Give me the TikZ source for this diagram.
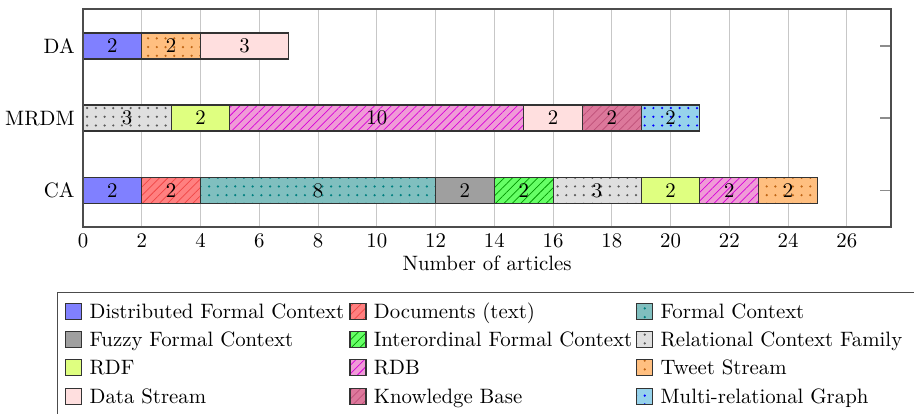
\documentclass[tikz,border=0pt]{standalone}
\usetikzlibrary{patterns.meta}
\definecolor{docline}{RGB}{240,70,70}
\definecolor{fcdot}{RGB}{0,128,128}
\definecolor{ioline}{RGB}{0,150,0}
\definecolor{rcfdot}{RGB}{90,90,90}
\definecolor{rdbfill}{RGB}{240,155,215}
\definecolor{rdbline}{RGB}{215,0,215}
\definecolor{tweetdot}{RGB}{190,100,20}
\definecolor{kbfill}{RGB}{220,120,155}
\definecolor{kbline}{RGB}{190,80,120}
\definecolor{mrgfill}{RGB}{150,210,235}
\tikzset{
  every node/.style={font=\fontsize{10.15}{12}\selectfont},
  barbox/.style={draw=black!80, line width=0.5pt},
  gridline/.style={draw=black!22, line width=0.5pt},
  axisframe/.style={draw=black!70, line width=0.7pt},
  ticklabel/.style={anchor=base, inner sep=0pt},
  barlabel/.style={anchor=base, inner sep=0pt},
  catlabel/.style={anchor=base east, inner sep=0pt},
  legtext/.style={anchor=base west, inner sep=0pt},
  lines/.style={pattern={Lines[angle=45,distance=2.9pt,line width=0.35pt]}},
  dotted pat/.style={pattern={Dots[distance=4.25pt,radius=0.6pt]}},
  sDist/.style={fill=blue!50},
  sDoc/.style={preaction={fill=red!50}, lines, pattern color=docline},
  sFC/.style={preaction={fill=teal!50}, dotted pat, pattern color=fcdot},
  sFuzzy/.style={fill=gray!75},
  sIO/.style={preaction={fill=green!60}, lines, pattern color=ioline},
  sRCF/.style={preaction={fill=gray!25}, dotted pat, pattern color=rcfdot},
  sRDF/.style={fill=lime!50},
  sRDB/.style={preaction={fill=rdbfill}, lines, pattern color=rdbline},
  sTweet/.style={preaction={fill=orange!50}, dotted pat, pattern color=tweetdot},
  sDS/.style={fill=pink!50},
  sKB/.style={preaction={fill=kbfill}, lines, pattern color=kbline},
  sMRG/.style={preaction={fill=mrgfill}, dotted pat, pattern color=blue},
}
% #1 name, #2 bar centre y (px), #3 from, #4 to, #5 style, #6 label
\newcommand\barseg[6]{%
  \path[barbox,#5] ({83+#3*29.38},{#2-13}) rectangle ({83+#4*29.38},{#2+13});
  \node[barlabel] (#1) at ({83+(#3+#4)*14.69},{#2+6.8}) {#6};
}
% #1 name, #2 square x, #3 row y, #4 style, #5 text
\newcommand\legitem[5]{%
  \path[barbox,#4] (#2,{#3-8}) rectangle ({#2+16},{#3+8});
  \node[legtext] (#1) at ({#2+23.5},{#3+7}) {#5};
}
\begin{document}
\begin{tikzpicture}[x=0.4878pt,y=-0.4878pt]
\useasboundingbox (0,0) rectangle (914,413);
\clip (0,0) rectangle (914,413);
% grid
\foreach \v in {2,4,...,26}
  \draw[gridline] ({83+\v*29.38},9) -- ({83+\v*29.38},227);
% right-side y ticks
\foreach \yy in {46,118,190.5}
  \draw[draw=black!45, line width=0.5pt] (880,\yy) -- (891,\yy);
% DA
\barseg{da1}{46}{0}{2}{sDist}{2}
\barseg{da2}{46}{2}{4}{sTweet}{2}
\barseg{da3}{46}{4}{7}{sDS}{3}
% MRDM
\barseg{mr1}{118}{0}{3}{sRCF}{3}
\barseg{mr2}{118}{3}{5}{sRDF}{2}
\barseg{mr3}{118}{5}{15}{sRDB}{10}
\barseg{mr4}{118}{15}{17}{sDS}{2}
\barseg{mr5}{118}{17}{19}{sKB}{2}
\barseg{mr6}{118}{19}{21}{sMRG}{2}
% CA
\barseg{ca1}{190.5}{0}{2}{sDist}{2}
\barseg{ca2}{190.5}{2}{4}{sDoc}{2}
\barseg{ca3}{190.5}{4}{12}{sFC}{8}
\barseg{ca4}{190.5}{12}{14}{sFuzzy}{2}
\barseg{ca5}{190.5}{14}{16}{sIO}{2}
\barseg{ca6}{190.5}{16}{19}{sRCF}{3}
\barseg{ca7}{190.5}{19}{21}{sRDF}{2}
\barseg{ca8}{190.5}{21}{23}{sRDB}{2}
\barseg{ca9}{190.5}{23}{25}{sTweet}{2}
% axis frame
\draw[axisframe] (83,9) rectangle (891,227);
% category labels
\node[catlabel] (yDA) at (75,53) {DA};
\node[catlabel] (yMRDM) at (75,125) {MRDM};
\node[catlabel] (yCA) at (75,197.5) {CA};
% x tick labels
\foreach \v in {0,2,...,26}
  \node[ticklabel] (xt\v) at ({83+\v*29.38},247.5) {\v};
\node[ticklabel] (xlabel) at (487,270) {Number of articles};
% legend
\draw[axisframe] (57.7,292.7) rectangle (960,440);
\legitem{l1}{65.7}{311.2}{sDist}{Distributed Formal Context}
\legitem{l2}{350}{311.2}{sDoc}{Documents (text)}
\legitem{l3}{636.7}{311.2}{sFC}{Formal Context}
\legitem{l4}{65.7}{339.5}{sFuzzy}{Fuzzy Formal Context}
\legitem{l5}{350}{339.5}{sIO}{Interordinal Formal Context}
\legitem{l6}{636.7}{339.5}{sRCF}{Relational Context Family}
\legitem{l7}{65.7}{367.8}{sRDF}{RDF}
\legitem{l8}{350}{367.8}{sRDB}{RDB}
\legitem{l9}{636.7}{367.8}{sTweet}{Tweet Stream}
\legitem{l10}{65.7}{396.1}{sDS}{Data Stream}
\legitem{l11}{350}{396.1}{sKB}{Knowledge Base}
\legitem{l12}{636.7}{396.1}{sMRG}{Multi-relational Graph}
\end{tikzpicture}
\end{document}
